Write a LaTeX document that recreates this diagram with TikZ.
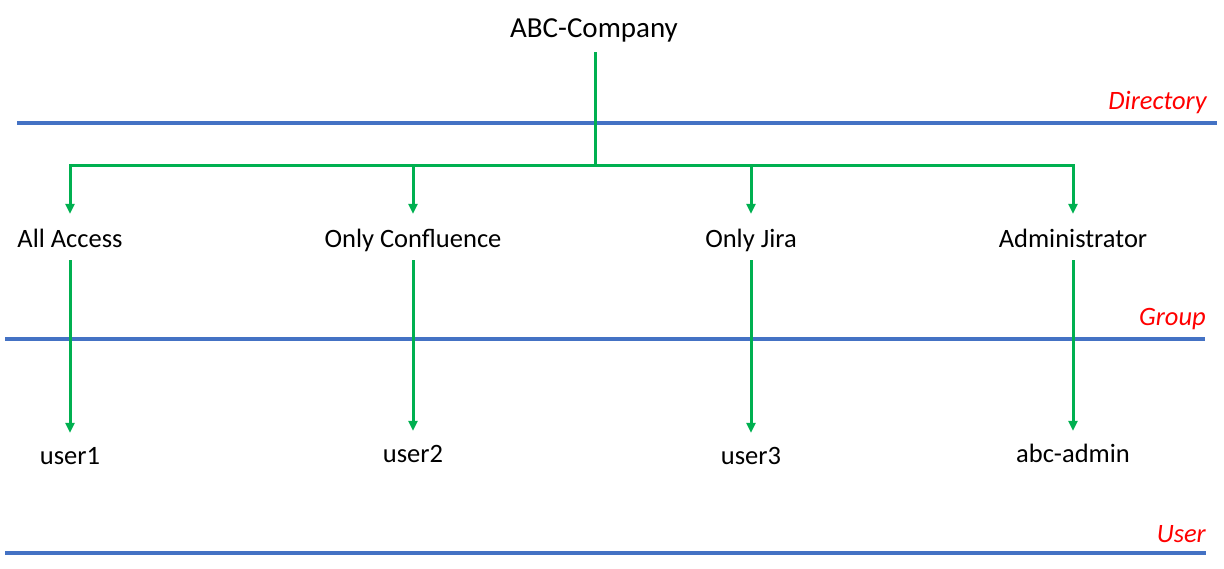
\documentclass[tikz,border=0pt]{standalone}
\usepackage{fontspec}
\setmainfont{Carlito}
\usetikzlibrary{arrows.meta}
\definecolor{offgreen}{HTML}{00B050}
\definecolor{offblue}{HTML}{4472C4}
\definecolor{offred}{HTML}{FF0000}
\begin{document}
\begin{tikzpicture}[x=1pt,y=-1pt,
  txt/.style={inner sep=0pt,font=\fontsize{26.5}{31}\selectfont},
  grp/.style={txt,anchor=base,text height=33pt,text depth=13pt},
  usr/.style={txt,anchor=base,text height=31pt,text depth=8pt},
  lvl/.style={inner sep=0pt,anchor=base east,text=offred,font=\fontsize{26.5}{31}\selectfont\itshape},
  sep/.style={draw=offblue,line width=3.5pt},
  conn/.style={draw=offgreen,line width=3pt},
  arr/.style={conn,-{Triangle[length=10pt,width=9pt]}}]
\useasboundingbox (0,0) rectangle (1224,568);
% level separators
\draw[sep] (17,123) -- (1217,123);
\draw[sep] (5,339) -- (1205,339);
\draw[sep] (5,553) -- (1206,553);
\node[lvl] (ldir) at (1207,109) {Directory};
\node[lvl] (lgrp) at (1206,325) {Group};
\node[lvl] (lusr) at (1206,542) {User};
% nodes
\node[txt,font=\fontsize{29}{34}\selectfont,anchor=base,text depth=15pt] (abc) at (594,37) {ABC-Company};
\node[grp] (g1) at (70,247) {All Access};
\node[grp] (g2) at (413,247) {Only Confluence};
\node[grp] (g3) at (751,247) {Only Jira};
\node[grp] (g4) at (1073,247) {Administrator};
\node[usr] (u1) at (70,464) {user1};
\node[usr] (u2) at (413,462) {user2};
\node[usr] (u3) at (751,464) {user3};
\node[usr] (u4) at (1073,462) {abc-admin};
\coordinate (hub) at (595,165);
% connectors
\draw[conn] (abc.south -| hub) -- (hub);
\foreach \g in {g1,g2,g3,g4}{\draw[arr] (hub) -| (\g.north);}
\draw[arr] (g1.south) -- (u1.north);
\draw[arr] (g2.south) -- (u2.north);
\draw[arr] (g3.south) -- (u3.north);
\draw[arr] (g4.south) -- (u4.north);
\end{tikzpicture}
\end{document}
